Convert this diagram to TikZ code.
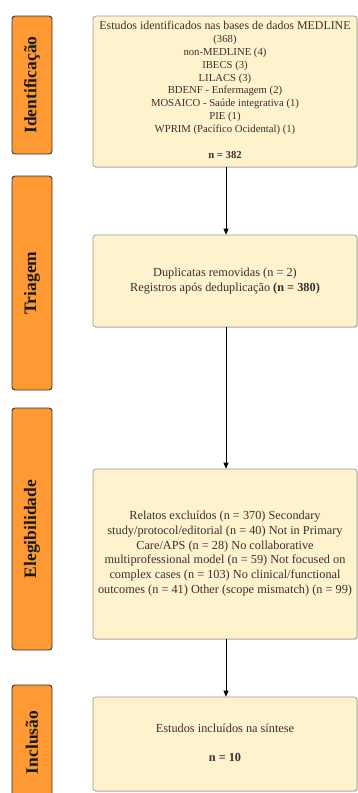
\documentclass[tikz,border=0pt]{standalone}
\usepackage{fontspec}
\setmainfont{Liberation Serif}
\usetikzlibrary{arrows.meta,shadows}
\definecolor{phasefill}{HTML}{FF9933}
\definecolor{phasedraw}{HTML}{333333}
\definecolor{boxfill}{HTML}{FFF2CC}
\definecolor{boxdraw}{HTML}{9A9A9A}
\definecolor{boxtext}{HTML}{333333}
\tikzset{
  phase/.style={draw=phasedraw, fill=phasefill, line width=0.9pt, rounded corners=3pt,
    minimum width=40pt, inner sep=0pt},
  phaselabel/.style={rotate=90, font=\fontsize{17.5}{20}\selectfont\bfseries, text=black!90},
  infobox/.style={draw=boxdraw, fill=boxfill, line width=0.7pt, rounded corners=3pt,
    minimum width=264pt, inner sep=0pt, align=center, text=boxtext,
    drop shadow={shadow xshift=1pt, shadow yshift=-1pt, opacity=0.25}},
  flow/.style={draw=black, line width=0.8pt, -{Triangle[length=6pt,width=5pt]}}
}
\begin{document}
\begin{tikzpicture}[x=1pt,y=1pt]
\useasboundingbox (0,0) rectangle (358,-793);
\clip (0,0) rectangle (358,-793);
\fill[white] (0,0) rectangle (358,-793);

% phase boxes
\node[phase, minimum height=138pt] (p1) at (32,-85) {};
\node[phase, minimum height=214pt] (p2) at (32,-283) {};
\node[phase, minimum height=242pt] (p3) at (32,-529) {};
\node[phase, minimum height=115pt] (p4) at (32,-742.5) {};
\node[phaselabel] (t1) at (p1.center) {Identificação};
\node[phaselabel] (t2) at (p2.center) {Triagem};
\node[phaselabel] (t3) at (p3.center) {Elegibilidade};
\node[phaselabel] (t4) at (p4.center) {Inclusão};

% content boxes
\node[infobox, minimum height=151pt] (b1) at (225,-91.5) {};
\node[infobox, minimum height=92pt] (b2) at (225,-281) {};
\node[infobox, minimum height=170pt] (b3) at (225,-554) {};
\node[infobox, minimum height=94pt] (b4) at (225,-744) {};

\node[align=center, text=boxtext, inner sep=0pt, font=\fontsize{10.7}{12.9}\selectfont] (x1) at (225,-89.8)
 {{\fontsize{11.9}{12.9}\selectfont Estudos identificados nas bases de dados MEDLINE}\\
  (368)\\ non-MEDLINE (4)\\ IBECS (3)\\ LILACS (3)\\ BDENF - Enfermagem (2)\\
  MOSAICO - Saúde integrativa (1)\\ PIE (1)\\ WPRIM (Pacífico Ocidental) (1)\\[12.9pt]
  \textbf{n = 382}};

\node[align=center, text=boxtext, inner sep=0pt, font=\fontsize{12.3}{14.7}\selectfont] (x2) at (b2.center)
 {Duplicatas removidas (n = 2)\\ Registros após deduplicação \textbf{(n = 380)}};

\node[align=center, text=boxtext, inner sep=0pt, font=\fontsize{12.3}{14.7}\selectfont] (x3) at (225,-553.5)
 {Relatos excluídos (n = 370) Secondary\\
  study/protocol/editorial (n = 40) Not in Primary\\
  Care/APS (n = 28) No collaborative\\
  multiprofessional model (n = 59) Not focused on\\
  complex cases (n = 103) No clinical/functional\\
  outcomes (n = 41) Other (scope mismatch) (n = 99)};

\node[align=center, text=boxtext, inner sep=0pt, font=\fontsize{12.3}{14.5}\selectfont] (x4) at (225,-742.8)
 {Estudos incluídos na síntese\\[14.5pt] \textbf{n = 10}};

% connectors
\draw[flow] ([xshift=1pt]b1.south) -- ([xshift=1pt]b2.north);
\draw[flow] ([xshift=1pt]b2.south) -- ([xshift=1pt]b3.north);
\draw[flow] ([xshift=1pt]b3.south) -- ([xshift=1pt]b4.north);
\end{tikzpicture}
\end{document}
